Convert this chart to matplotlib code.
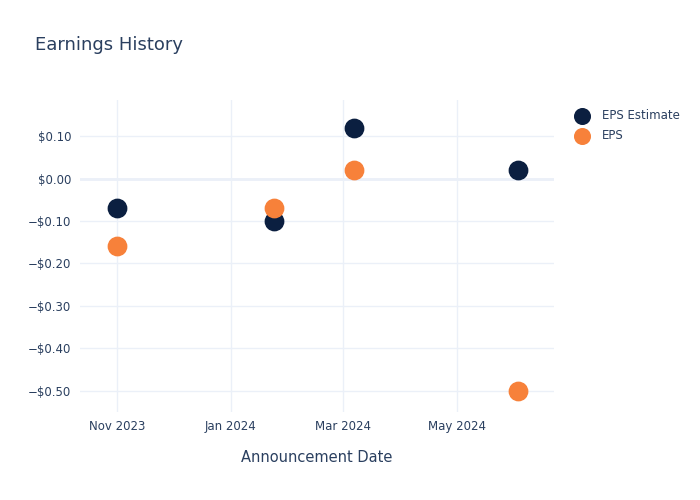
import matplotlib
matplotlib.use("Agg")
import matplotlib.pyplot as plt
import matplotlib.dates as mdates
import numpy as np
import pandas as pd

# data
dates = pd.to_datetime(["2023-11-01", "2024-01-24", "2024-03-07", "2024-06-03"])
eps_estimate = [-0.07, -0.10, 0.12, 0.02]
eps_actual = [-0.16, -0.07, 0.02, -0.50]
y_ticks = [0.10, 0.0, -0.10, -0.20, -0.30, -0.40, -0.50]

NAVY = "#0b1f40"
ORANGE = "#f7813a"
GRID = "#ebf0f8"
TEXT = "#2a3f5f"

plt.rcParams["font.family"] = ["DejaVu Sans"]

fig = plt.figure(figsize=(7, 5), dpi=100)
ax = fig.add_axes([0.114, 0.176, 0.677, 0.624])

ax.scatter(dates, eps_estimate, s=175, color=NAVY, label="EPS Estimate", zorder=3)
ax.scatter(dates, eps_actual, s=175, color=ORANGE, label="EPS", zorder=3)

ax.set_xlim(pd.Timestamp("2023-10-12"), pd.Timestamp("2024-06-22"))
ax.set_ylim(-0.55, 0.185)

ax.xaxis.set_major_locator(mdates.MonthLocator(bymonth=[1, 3, 5, 11]))
ax.xaxis.set_major_formatter(mdates.DateFormatter("%b %Y"))
ax.set_yticks(y_ticks)
ax.set_yticklabels([("\u2212" if v < 0 else "") + f"${abs(v):.2f}" for v in y_ticks])

ax.grid(True, color=GRID, linewidth=1, zorder=0)
ax.axhline(0, color=GRID, linewidth=2, zorder=1)
for s in ax.spines.values():
    s.set_visible(False)
ax.tick_params(length=0, labelsize=8.5, colors=TEXT, pad=6)

ax.set_xlabel("Announcement Date", fontsize=10.5, color=TEXT, labelpad=12)
fig.text(0.05, 0.91, "Earnings History", fontsize=13, color=TEXT, ha="left", va="center")

leg = ax.legend(loc="upper left", bbox_to_anchor=(1.02, 0.995), frameon=False,
                fontsize=8.5, labelcolor=TEXT, handletextpad=0.7, labelspacing=0.62,
                markerscale=0.85, borderaxespad=0.2)

fig.savefig("out.png", dpi=100)
